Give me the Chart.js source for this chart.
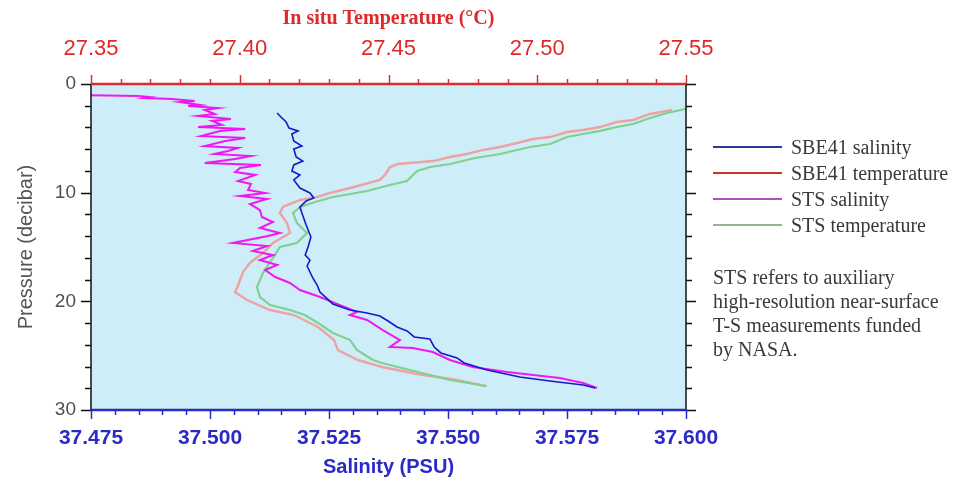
<!DOCTYPE html>
<html>
<head>
<meta charset="utf-8">
<script src="https://cdn.jsdelivr.net/npm/chart.js@4.4.1/dist/chart.umd.min.js"></script>
<style>
  body { margin: 0; background: #fff; }
  #wrap { position: relative; width: 980px; height: 491px; }
  #legend { position: absolute; left: 713px; top: 134px; font-family: "Liberation Serif", serif; font-size: 20px; color: #3a3a3a; }
  .row { display: flex; align-items: center; height: 26px; }
  .sample { width: 69px; height: 0; border-top: 2px solid; margin-right: 9px; }
  #note { position: absolute; left: 713px; top: 265px; font-family: "Liberation Serif", serif; font-size: 20px; line-height: 24px; color: #3a3a3a; }
</style>
</head>
<body>
<div id="wrap">
  <canvas id="chart" width="980" height="491"></canvas>
  <div id="legend"></div>
  <div id="note">STS refers to auxiliary<br>high-resolution near-surface<br>T-S measurements funded<br>by NASA.</div>
</div>
<script>
// SBE41 salinity profile (pressure in decibar, salinity in PSU)
const sbeSalPressure = [2.67, 3.04, 3.50, 4.05, 4.32, 4.60, 5.25, 5.71, 5.98, 6.72,
  7.09, 7.45, 8.01, 8.37, 8.83, 9.57, 10.03, 10.49, 10.77, 11.32,
  11.87, 12.98, 14.08, 15.00, 15.74, 16.20, 16.75, 17.85, 18.50, 19.14,
  20.24, 20.80, 21.07, 21.35, 21.81, 22.36, 22.73, 23.28, 23.47, 24.20,
  24.75, 25.21, 25.67, 26.32, 26.96, 27.33, 27.70, 27.97];
const sbeSalinity = [37.5141, 37.5149, 37.5160, 37.5166, 37.5185, 37.5172, 37.5176, 37.5193, 37.5176, 37.5181,
  37.5195, 37.5176, 37.5172, 37.5189, 37.5176, 37.5189, 37.5210, 37.5218, 37.5202, 37.5189,
  37.5193, 37.5202, 37.5212, 37.5206, 37.5200, 37.5210, 37.5204, 37.5216, 37.5225, 37.5231,
  37.5258, 37.5294, 37.5330, 37.5357, 37.5374, 37.5393, 37.5414, 37.5429, 37.5462, 37.5471,
  37.5485, 37.5519, 37.5534, 37.5582, 37.5651, 37.5714, 37.5784, 37.5809];

// SBE41 temperature profile (degC)
const sbeTempPressure = [2.39, 2.76, 3.31, 3.50, 3.96, 4.23, 4.42, 4.88, 5.06, 5.43,
  5.80, 6.07, 6.44, 6.72, 7.09, 7.27, 7.36, 7.64, 8.37, 8.83,
  9.20, 9.57, 10.03, 10.40, 10.67, 11.32, 11.87, 12.79, 13.71, 14.63,
  15.55, 16.47, 17.30, 18.04, 18.77, 19.14, 19.88, 20.80, 21.26, 22.36,
  23.56, 24.48, 25.40, 26.04, 26.69, 27.24, 27.79];
const sbeTemperature = [27.5453, 27.5379, 27.5322, 27.5268, 27.5211, 27.5154, 27.5100, 27.5043, 27.4986, 27.4932,
  27.4875, 27.4818, 27.4764, 27.4707, 27.4650, 27.4572, 27.4532, 27.4505, 27.4488, 27.4471,
  27.4421, 27.4371, 27.4303, 27.4260, 27.4203, 27.4145, 27.4135, 27.4159, 27.4169, 27.4112,
  27.4078, 27.4034, 27.4011, 27.4001, 27.3991, 27.3984, 27.4024, 27.4102, 27.4182, 27.4263,
  27.4317, 27.4330, 27.4397, 27.4478, 27.4596, 27.4730, 27.4824];

// STS salinity profile
const stsSalPressure = [1.01, 1.10, 1.20, 1.29, 1.38, 1.56, 1.66, 1.93, 2.02, 2.21,
  2.39, 2.76, 2.94, 3.22, 3.40, 3.77, 3.96, 4.14, 4.32, 4.79,
  4.97, 5.25, 5.71, 5.89, 6.17, 6.44, 6.63, 6.90, 7.27, 7.45,
  7.73, 8.10, 8.37, 8.93, 9.20, 9.75, 10.03, 10.31, 10.58, 11.04,
  11.60, 12.24, 12.70, 13.25, 13.71, 13.99, 14.63, 14.91, 15.37, 15.74,
  16.20, 16.66, 17.12, 17.76, 18.31, 18.96, 19.60, 20.24, 20.98, 21.26,
  21.72, 22.64, 23.56, 24.20, 24.29, 24.66, 25.40, 26.04, 26.50, 26.78,
  27.05, 27.51, 27.97];
const stsSalinity = [37.4727, 37.4849, 37.4874, 37.4863, 37.4920, 37.4968, 37.4937, 37.4979, 37.4954, 37.5017,
  37.4989, 37.5010, 37.4975, 37.5044, 37.5004, 37.5025, 37.4975, 37.5074, 37.5021, 37.4981,
  37.5074, 37.5032, 37.4989, 37.5059, 37.5038, 37.5010, 37.5086, 37.5053, 37.4989, 37.5107,
  37.5063, 37.5053, 37.5095, 37.5059, 37.5086, 37.5080, 37.5116, 37.5063, 37.5120, 37.5084,
  37.5105, 37.5109, 37.5132, 37.5105, 37.5147, 37.5122, 37.5048, 37.5120, 37.5090, 37.5132,
  37.5105, 37.5141, 37.5116, 37.5137, 37.5168, 37.5189, 37.5231, 37.5267, 37.5309, 37.5294,
  37.5330, 37.5363, 37.5399, 37.5378, 37.5426, 37.5468, 37.5504, 37.5552, 37.5624, 37.5679,
  37.5735, 37.5784, 37.5813];

// STS temperature profile
const stsTempPressure = [2.12, 2.67, 3.13, 3.68, 3.96, 4.32, 4.60, 4.88, 5.52, 5.80,
  6.07, 6.44, 6.81, 7.36, 7.64, 8.01, 8.93, 9.29, 9.85, 10.12,
  10.40, 10.86, 11.32, 11.87, 12.79, 13.71, 14.63, 15.00, 15.74, 16.38,
  17.39, 18.68, 19.60, 20.34, 20.80, 21.26, 21.99, 22.91, 23.56, 24.48,
  25.40, 25.67, 26.32, 27.24, 27.79];
const stsTemperature = [27.5530, 27.5436, 27.5379, 27.5322, 27.5268, 27.5211, 27.5154, 27.5100, 27.5043, 27.4976,
  27.4932, 27.4875, 27.4791, 27.4707, 27.4640, 27.4596, 27.4562, 27.4505, 27.4428, 27.4371,
  27.4313, 27.4253, 27.4203, 27.4179, 27.4192, 27.4226, 27.4192, 27.4135, 27.4118, 27.4102,
  27.4078, 27.4058, 27.4068, 27.4102, 27.4169, 27.4219, 27.4263, 27.4313, 27.4371, 27.4394,
  27.4448, 27.4478, 27.4572, 27.4707, 27.4831];

// axis ticks
const salinityTicks = [37.475, 37.500, 37.525, 37.550, 37.575, 37.600];
const temperatureTicks = [27.35, 27.40, 27.45, 27.50, 27.55];
const pressureTicks = [0, 10, 20, 30];

const legendItems = [
  { label: "SBE41 salinity", color: "#2b3a9b" },
  { label: "SBE41 temperature", color: "#c0392b" },
  { label: "STS salinity", color: "#b050c0" },
  { label: "STS temperature", color: "#90b890" },
];

const toPoints = (pressures, values) => pressures.map((p, i) => ({ x: values[i], y: p }));

document.getElementById("legend").innerHTML = legendItems
  .map((it) => `<div class="row"><div class="sample" style="border-color:${it.color}"></div>${it.label}</div>`)
  .join("");

const plotBackground = {
  id: "plotBackground",
  beforeDraw(chart) {
    const { ctx, chartArea: a } = chart;
    ctx.save();
    ctx.fillStyle = "#cdeef8";
    ctx.fillRect(a.left, a.top, a.right - a.left, a.bottom - a.top);
    ctx.restore();
  },
};

// frame and tick marks, drawn from the scales
const frameTicks = {
  id: "frameTicks",
  afterDraw(chart) {
    const { ctx, chartArea: a, scales } = chart;
    const sal = scales.x, temp = scales.xTemp, pres = scales.y;
    ctx.save();
    ctx.lineWidth = 1.5;

    ctx.strokeStyle = "#111";
    for (let p = 0; p <= 30; p += 2) {
      const y = Math.round(pres.getPixelForValue(p)) + 0.5;
      const len = p % 10 === 0 ? 10 : 6;
      ctx.beginPath();
      ctx.moveTo(a.left - len, y); ctx.lineTo(a.left, y);
      ctx.moveTo(a.right, y); ctx.lineTo(a.right + len, y);
      ctx.stroke();
    }
    ctx.beginPath();
    ctx.moveTo(a.left, a.top); ctx.lineTo(a.left, a.bottom);
    ctx.moveTo(a.right, a.top); ctx.lineTo(a.right, a.bottom);
    ctx.stroke();

    ctx.strokeStyle = "#d83030";
    for (let i = 0; i <= 20; i++) {
      const x = Math.round(temp.getPixelForValue(27.35 + i * 0.01)) + 0.5;
      const len = i % 5 === 0 ? 9 : 5;
      ctx.beginPath(); ctx.moveTo(x, a.top); ctx.lineTo(x, a.top - len); ctx.stroke();
    }
    ctx.lineWidth = 2.5;
    ctx.beginPath(); ctx.moveTo(a.left, a.top); ctx.lineTo(a.right, a.top); ctx.stroke();

    ctx.strokeStyle = "#2a2ac8";
    ctx.lineWidth = 1.5;
    for (let i = 0; i <= 25; i++) {
      const x = Math.round(sal.getPixelForValue(37.475 + i * 0.005)) + 0.5;
      const len = i % 5 === 0 ? 9 : 5;
      ctx.beginPath(); ctx.moveTo(x, a.bottom); ctx.lineTo(x, a.bottom + len); ctx.stroke();
    }
    ctx.lineWidth = 2.5;
    ctx.beginPath(); ctx.moveTo(a.left, a.bottom); ctx.lineTo(a.right, a.bottom); ctx.stroke();
    ctx.restore();
  },
};

const lineSet = (label, points, axis, color, width) => ({
  label,
  data: points,
  xAxisID: axis,
  yAxisID: "y",
  borderColor: color,
  backgroundColor: color,
  borderWidth: width,
  pointRadius: 0,
  tension: 0,
  fill: false,
});

new Chart(document.getElementById("chart"), {
  type: "line",
  data: {
    datasets: [
      lineSet("SBE41 salinity", toPoints(sbeSalPressure, sbeSalinity), "x", "#1818c8", 1.6),
      lineSet("STS salinity", toPoints(stsSalPressure, stsSalinity), "x", "#f018f0", 2),
      lineSet("STS temperature", toPoints(stsTempPressure, stsTemperature), "xTemp", "#80d090", 2.2),
      lineSet("SBE41 temperature", toPoints(sbeTempPressure, sbeTemperature), "xTemp", "#eda3a3", 2.4),
    ],
  },
  options: {
    responsive: false,
    animation: false,
    layout: { padding: { left: 0, right: 294, top: 0, bottom: 0 } },
    plugins: { legend: { display: false }, tooltip: { enabled: false } },
    scales: {
      x: {
        type: "linear",
        position: "bottom",
        min: 37.475,
        max: 37.6,
        afterBuildTicks: (scale) => { scale.ticks = salinityTicks.map((v) => ({ value: v })); },
        afterFit: (scale) => { scale.height = 81; },
        grid: { display: false, drawTicks: false },
        border: { display: false },
        ticks: {
          padding: 16,
          maxRotation: 0,
          autoSkip: false,
          color: "#2a2ac8",
          font: { family: "Liberation Sans", size: 21, weight: "bold" },
          callback: (v) => Number(v).toFixed(3),
        },
        title: {
          display: true,
          text: "Salinity (PSU)",
          color: "#2a2ac8",
          font: { family: "Liberation Sans", size: 20, weight: "bold" },
          padding: { top: 0, bottom: 12 },
        },
      },
      xTemp: {
        type: "linear",
        position: "top",
        min: 27.35,
        max: 27.55,
        afterBuildTicks: (scale) => { scale.ticks = temperatureTicks.map((v) => ({ value: v })); },
        afterFit: (scale) => { scale.height = 84; },
        grid: { display: false, drawTicks: false },
        border: { display: false },
        ticks: {
          padding: 22,
          maxRotation: 0,
          autoSkip: false,
          color: "#e02828",
          font: { family: "Liberation Sans", size: 22 },
          callback: (v) => Number(v).toFixed(2),
        },
        title: {
          display: true,
          text: "In situ Temperature (°C)",
          color: "#e02828",
          font: { family: "Liberation Serif", size: 20, weight: "bold" },
          padding: { top: 7, bottom: 0 },
        },
      },
      y: {
        type: "linear",
        reverse: true,
        min: 0,
        max: 30,
        afterBuildTicks: (scale) => { scale.ticks = pressureTicks.map((v) => ({ value: v })); },
        afterFit: (scale) => { scale.width = 91; },
        grid: { display: false, drawTicks: false },
        border: { display: false },
        ticks: {
          padding: 15,
          autoSkip: false,
          color: "#505050",
          font: { family: "Liberation Sans", size: 19 },
        },
        title: {
          display: true,
          text: "Pressure (decibar)",
          color: "#555",
          font: { family: "Liberation Sans", size: 20 },
          padding: { top: 14, bottom: 0 },
        },
      },
    },
  },
  plugins: [plotBackground, frameTicks],
});
</script>
</body>
</html>
